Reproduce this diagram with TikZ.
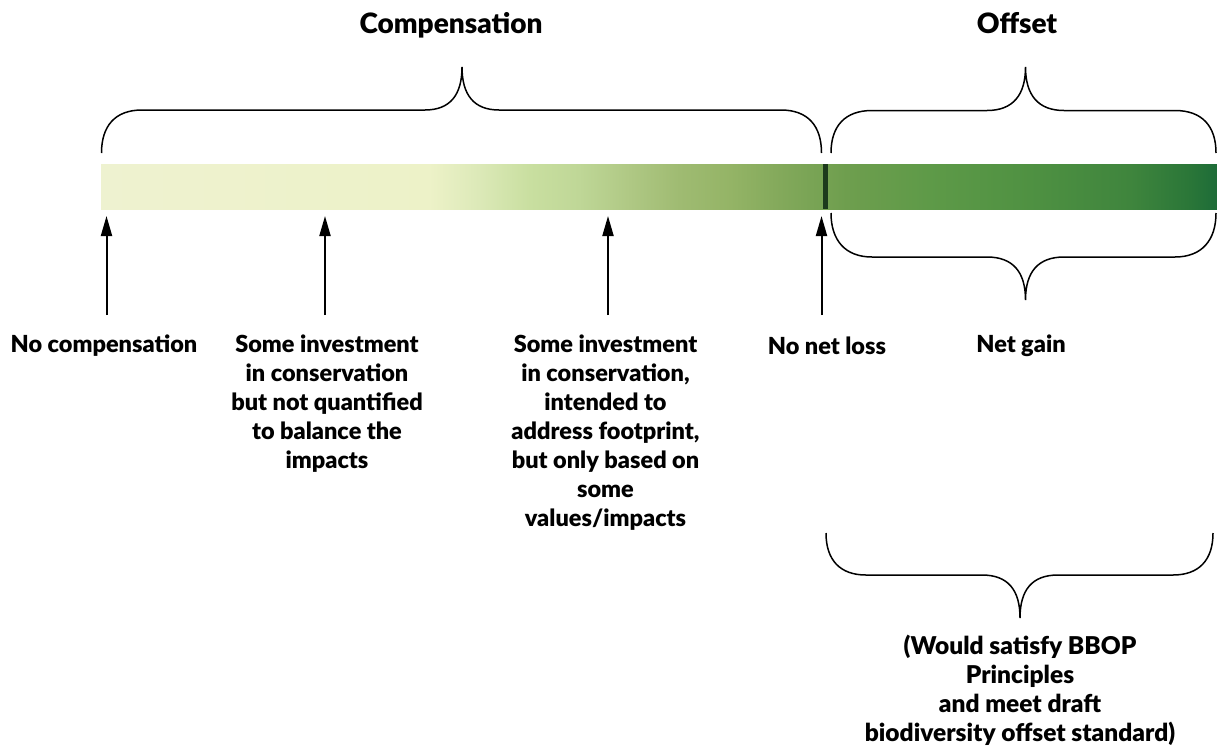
\documentclass[tikz,border=0pt]{standalone}
\usepackage{fontspec}
\setmainfont{Lato}[BoldFont={Lato Black}]
\usetikzlibrary{arrows.meta}
\definecolor{g0}{HTML}{EEF2D0}
\definecolor{g1}{HTML}{EDF2C8}
\definecolor{g2}{HTML}{DCE9B8}
\definecolor{g3}{HTML}{C9DFA0}
\definecolor{g4}{HTML}{BFD797}
\definecolor{g5}{HTML}{AFC884}
\definecolor{g6}{HTML}{9FBB72}
\definecolor{g7}{HTML}{94B466}
\definecolor{g8}{HTML}{83A95B}
\definecolor{g9}{HTML}{6E9E4E}
\definecolor{g10}{HTML}{5E9A48}
\definecolor{g11}{HTML}{4F9142}
\definecolor{g12}{HTML}{3F853D}
\definecolor{g13}{HTML}{2A7638}
\definecolor{g14}{HTML}{1D6C38}
\definecolor{tickcol}{HTML}{1C3A1C}
% bar from x=101 to 1217 -> 25bp..75bp
\pgfdeclarehorizontalshading{bargrad}{100bp}{%
color(0bp)=(g0);
color(25bp)=(g0);
color(39.7bp)=(g1);
color(41.9bp)=(g2);
color(44.2bp)=(g3);
color(46.4bp)=(g4);
color(48.7bp)=(g5);
color(50.9bp)=(g6);
color(53.2bp)=(g7);
color(55.4bp)=(g8);
color(58.4bp)=(g9);
color(62.1bp)=(g10);
color(66.6bp)=(g11);
color(71.1bp)=(g12);
color(73.8bp)=(g13);
color(75bp)=(g14);
color(100bp)=(g14)}
\tikzset{
  lbl/.style={font=\fontsize{23.5}{29}\selectfont\bfseries, align=center, anchor=north, inner sep=0pt},
  lblbig/.style={lbl, font=\fontsize{24.5}{29}\selectfont\bfseries},
  ttl/.style={font=\fontsize{28}{32}\selectfont\bfseries, anchor=base, inner sep=0pt},
  brace/.style={draw=black, line width=1.5pt},
  uparrow/.style={draw=black, line width=2pt, -{Triangle[length=20pt,width=11pt]}},
}
\begin{document}
\begin{tikzpicture}[x=1pt,y=-1pt]
\useasboundingbox (0,0) rectangle (1217,745);
% bar
\path[shading=bargrad] (101,164) rectangle (1217,209);
\fill[tickcol] (823,164) rectangle (828,209);
% titles
\node[ttl] (comp) at (451,33) {Compensation};
\node[ttl] (off) at (1017,33) {Offset};
% braces
\draw[brace] (101.5,153) .. controls (101.5,126) and (115,110) .. (142,110) -- (425,110)
  .. controls (450,110) and (462,95) .. (462,67)
  .. controls (462,95) and (474,110) .. (499,110) -- (781,110)
  .. controls (808,110) and (821.5,126) .. (821.5,153);
\draw[brace] (831,153) .. controls (831,126) and (845,110.5) .. (872,110.5) -- (987,110.5)
  .. controls (1013,110.5) and (1025.5,95) .. (1025.5,67)
  .. controls (1025.5,95) and (1038,110.5) .. (1064,110.5) -- (1175,110.5)
  .. controls (1202,110.5) and (1216,126) .. (1216,153);
\draw[brace] (831,213) .. controls (831,240) and (845,257) .. (872,257) -- (987,257)
  .. controls (1013,257) and (1025.5,272) .. (1025.5,300)
  .. controls (1025.5,272) and (1038,257) .. (1064,257) -- (1175,257)
  .. controls (1202,257) and (1216,240) .. (1216,213);
\draw[brace] (826,533) .. controls (826,560) and (840,575) .. (866,575) -- (982,575)
  .. controls (1008,575) and (1020,590) .. (1020,618)
  .. controls (1020,590) and (1032,575) .. (1058,575) -- (1173,575)
  .. controls (1199,575) and (1213,560) .. (1213,533);
% arrows
\coordinate (a1s) at (106.5,315); \coordinate (a1e) at (106.5,216);
\coordinate (a2s) at (325,315); \coordinate (a2e) at (325,216);
\coordinate (a3s) at (608,315); \coordinate (a3e) at (608,216);
\coordinate (a4s) at (821.5,315); \coordinate (a4e) at (821.5,216);
\draw[uparrow] (a1s) -- (a1e);
\draw[uparrow] (a2s) -- (a2e);
\draw[uparrow] (a3s) -- (a3e);
\draw[uparrow] (a4s) -- (a4e);
% labels
\node[lbl] (l1) at (104,335) {No compensation};
\node[lbl] (l2) at (327,335) {Some investment\\in conservation\\but not quantified\\to balance the\\impacts};
\node[lbl] (l3) at (605.5,335) {Some investment\\in conservation,\\intended to\\address footprint,\\but only based on\\some\\values/impacts};
\node[lbl] (l4) at (827,337) {No net loss};
\node[lbl] (l5) at (1021,335) {Net gain};
\node[lblbig] (l6) at (1020,635) {(Would satisfy BBOP\\Principles\\and meet draft\\biodiversity offset standard)};
\end{tikzpicture}
\end{document}
